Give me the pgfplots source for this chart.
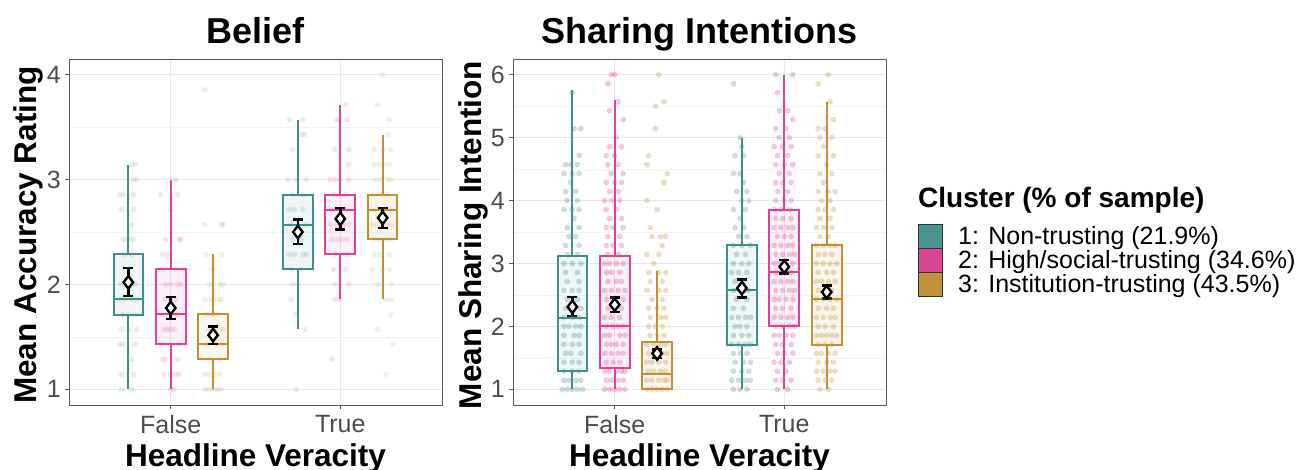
\documentclass[border=0pt]{standalone}
\usepackage{pgfplots}
\pgfplotsset{compat=1.18}
\usepgfplotslibrary{statistics}
\usepackage{fontspec}
\setmainfont{Liberation Sans}
\definecolor{cA}{HTML}{4A9490}
\definecolor{cB}{HTML}{DB4694}
\definecolor{cC}{HTML}{C0923A}
\definecolor{lA}{HTML}{3F8F8C}
\definecolor{lB}{HTML}{E0409A}
\definecolor{lC}{HTML}{C48F30}
\newcommand{\bx}[7]{\addplot[draw=#1, fill=#1, fill opacity=0.08, line width=2pt,
  boxplot/every box/.style={draw=#1, line width=2pt},
  boxplot/every whisker/.style={draw=#1, line width=2pt},
  boxplot/every median/.style={draw=#1, line width=2pt},
  boxplot prepared={draw direction=y, draw position=#2, lower whisker=#3, lower quartile=#4, median=#5,
  upper quartile=#6, upper whisker=#7, box extend=0.175, whisker extend=0}] coordinates {};}
\pgfplotsset{myax/.style={scale only axis, width=373pt, height=346pt,
  xmin=0.4, xmax=2.6, xtick={1,2}, xticklabels={False,True},
  tick pos=left, tick align=outside, major tick length=4pt, minor tick length=0pt,
  axis line style={color=black!65, line width=0.7pt},
  major tick style={color=black!65, line width=0.7pt},
  xmajorgrids, ymajorgrids, yminorgrids,
  major grid style={color=black!9, line width=0.8pt},
  minor grid style={color=black!5, line width=0.5pt},
  /pgf/number format/assume math mode=true,
  ticklabel style={font=\fontsize{25}{30}\selectfont, text=black!70},
  yticklabel style={anchor=east, inner sep=0pt, xshift=-4pt},
  xticklabel style={anchor=north, inner sep=0pt, yshift=-6pt}},
  pts/.style={only marks, mark=*, mark size=2.9pt, mark options={draw=#1, fill=#1, fill opacity=0.15, draw opacity=0}},
  ptsr/.style={only marks, mark=*, mark size=2.9pt, mark options={draw=#1, fill=#1, fill opacity=0.3, draw opacity=0}},
  mn/.style={only marks, mark=diamond*, mark size=6.3pt, mark options={fill=white, draw=black, line width=2.4pt},
    every error bar/.append style={line width=2.6pt, black},
    error bars/.cd, y dir=both, y explicit, error bar style={line width=2.6pt, black},
    error mark options={rotate=90, mark size=5pt, line width=2.6pt, black}}}
\begin{document}
\begin{tikzpicture}
\useasboundingbox (0,0) rectangle (1310pt,469pt);
% ---------------- Belief ----------------
\begin{axis}[myax, at={(69pt,64pt)}, anchor=south west, ymin=0.85, ymax=4.15,
  ytick={1,2,3,4}, minor ytick={1.5,2.5,3.5}]
\addplot[pts=cA] coordinates {(0.77,3.143)(0.79,3.143)(0.78,3.0)(0.80,3.0)(0.70,2.857)(0.72,2.857)(0.78,2.857)(0.71,2.714)(0.78,2.714)(0.77,2.571)(0.72,2.429)(0.75,2.429)(0.78,2.429)(0.73,2.286)(0.77,2.286)(0.75,2.143)(0.71,2.0)(0.75,2.0)(0.79,2.0)(0.70,1.857)(0.73,1.857)(0.77,1.857)(0.80,1.857)(0.72,1.714)(0.75,1.714)(0.79,1.714)(0.71,1.571)(0.75,1.571)(0.80,1.571)(0.70,1.429)(0.72,1.429)(0.79,1.429)(0.77,1.286)(0.71,1.143)(0.78,1.143)(0.71,1.0)(0.77,1.0)};
\addplot[pts=cB] coordinates {(1.03,3.0)(0.94,2.857)(1.04,2.857)(1.0,2.714)(0.97,2.429)(1.05,2.429)(1.06,2.429)(0.95,2.286)(0.98,2.286)(0.96,2.143)(1.03,2.143)(0.97,2.0)(1.0,2.0)(1.04,2.0)(1.06,2.0)(0.96,1.857)(1.0,1.857)(1.03,1.857)(0.95,1.714)(1.04,1.714)(0.96,1.571)(0.98,1.571)(1.0,1.571)(1.02,1.571)(0.95,1.429)(1.05,1.429)(0.95,1.286)(0.97,1.286)(1.04,1.286)(0.96,1.143)(1.0,1.143)(1.03,1.143)(1.05,1.143)(1.0,1.0)(1.02,1.0)};
\addplot[pts=cC] coordinates {(1.20,3.857)(1.20,2.571)(1.30,2.571)(1.31,2.571)(1.21,2.286)(1.30,2.286)(1.25,2.143)(1.23,2.0)(1.29,2.0)(1.31,2.0)(1.20,1.857)(1.23,1.857)(1.25,1.857)(1.28,1.857)(1.30,1.857)(1.21,1.714)(1.25,1.714)(1.28,1.714)(1.22,1.571)(1.25,1.571)(1.29,1.571)(1.31,1.571)(1.21,1.429)(1.27,1.429)(1.30,1.429)(1.23,1.286)(1.29,1.286)(1.20,1.143)(1.23,1.143)(1.26,1.143)(1.29,1.143)(1.20,1.0)(1.22,1.0)(1.24,1.0)(1.26,1.0)(1.28,1.0)(1.30,1.0)};
\addplot[pts=cA] coordinates {(1.70,3.571)(1.78,3.571)(1.77,3.429)(1.79,3.429)(1.72,3.286)(1.69,3.0)(1.74,3.0)(1.80,3.0)(1.72,2.857)(1.78,2.857)(1.70,2.714)(1.73,2.714)(1.78,2.714)(1.71,2.571)(1.75,2.571)(1.80,2.571)(1.72,2.429)(1.77,2.429)(1.70,2.286)(1.73,2.286)(1.78,2.286)(1.80,2.286)(1.71,2.143)(1.77,2.143)(1.72,2.0)(1.75,2.0)(1.71,1.857)(1.74,1.714)(1.79,1.571)(1.74,1.0)};
\addplot[pts=cB] coordinates {(2.03,3.714)(1.98,3.571)(2.04,3.571)(1.97,3.286)(2.05,3.286)(2.05,3.143)(1.94,3.0)(1.97,3.0)(2.0,3.0)(2.05,3.0)(1.96,2.857)(1.99,2.857)(2.03,2.857)(1.95,2.714)(2.03,2.714)(1.94,2.571)(1.98,2.571)(2.02,2.571)(2.05,2.571)(1.95,2.429)(1.98,2.429)(2.01,2.429)(2.04,2.429)(1.97,2.286)(2.03,2.286)(2.05,2.286)(1.96,2.143)(2.03,2.143)(1.97,2.0)(2.05,2.0)(1.97,1.857)(2.0,1.857)(1.95,1.286)};
\addplot[pts=cC] coordinates {(2.25,4.0)(2.22,3.714)(2.29,3.571)(2.28,3.429)(2.20,3.286)(2.25,3.286)(2.30,3.286)(2.20,3.143)(2.23,3.143)(2.26,3.143)(2.29,3.143)(2.21,3.0)(2.24,3.0)(2.28,3.0)(2.30,3.0)(2.20,2.857)(2.23,2.857)(2.25,2.857)(2.28,2.857)(2.21,2.714)(2.26,2.714)(2.30,2.714)(2.19,2.571)(2.22,2.571)(2.25,2.571)(2.28,2.571)(2.30,2.571)(2.20,2.429)(2.23,2.429)(2.27,2.429)(2.30,2.429)(2.20,2.286)(2.23,2.286)(2.29,2.286)(2.19,2.143)(2.25,2.143)(2.29,2.143)(2.22,2.0)(2.30,2.0)(2.27,1.857)(2.30,1.857)(2.30,1.714)(2.22,1.571)(2.31,1.429)(2.27,1.143)};
\bx{lA}{0.75}{1.0}{1.708}{1.857}{2.286}{3.143}
\bx{lB}{1.00}{1.0}{1.429}{1.714}{2.143}{3.0}
\bx{lC}{1.25}{1.0}{1.286}{1.429}{1.714}{2.286}
\bx{lA}{1.75}{1.571}{2.143}{2.571}{2.857}{3.571}
\bx{lB}{2.00}{1.857}{2.286}{2.714}{2.857}{3.714}
\bx{lC}{2.25}{1.857}{2.429}{2.714}{2.857}{3.429}
\addplot[mn] table[x=x, y=y, y error plus=ep, y error minus=em] {
x y ep em
0.75 2.02 0.135 0.13
1.00 1.775 0.105 0.105
1.25 1.517 0.083 0.087
1.75 2.50 0.12 0.116
2.00 2.625 0.102 0.101
2.25 2.635 0.092 0.095
};
\end{axis}
% ---------------- Sharing ----------------
\begin{axis}[myax, at={(513pt,64pt)}, anchor=south west, ymin=0.75, ymax=6.25,
  ytick={1,2,3,4,5,6}, minor ytick={1.5,2.5,3.5,4.5,5.5}]
\addplot[ptsr=cA] coordinates {(0.69,1.0)(0.72,1.0)(0.75,1.0)(0.78,1.0)(0.81,1.0)(0.70,1.143)(0.73,1.143)(0.77,1.143)(0.80,1.143)(0.70,1.286)(0.75,1.286)(0.79,1.286)(0.70,1.429)(0.75,1.429)(0.79,1.429)(0.71,1.571)(0.74,1.571)(0.80,1.571)(0.70,1.714)(0.75,1.714)(0.79,1.714)(0.70,1.857)(0.76,1.857)(0.79,1.857)(0.70,2.0)(0.73,2.0)(0.77,2.0)(0.80,2.0)(0.70,2.143)(0.75,2.143)(0.79,2.143)(0.71,2.286)(0.75,2.286)(0.80,2.286)(0.72,2.429)(0.78,2.429)(0.70,2.571)(0.75,2.571)(0.79,2.571)(0.72,2.714)(0.79,2.714)(0.71,2.857)(0.78,2.857)(0.70,3.0)(0.75,3.0)(0.80,3.0)(0.72,3.143)(0.78,3.143)(0.71,3.286)(0.79,3.286)(0.73,3.429)(0.77,3.429)(0.72,3.571)(0.79,3.571)(0.76,3.714)(0.70,3.857)(0.75,3.857)(0.79,3.857)(0.72,4.0)(0.78,4.0)(0.71,4.143)(0.77,4.143)(0.74,4.286)(0.70,4.429)(0.75,4.429)(0.79,4.429)(0.71,4.571)(0.74,4.571)(0.78,4.571)(0.79,4.714)(0.76,5.143)(0.80,5.143)(0.75,5.714)};
\addplot[ptsr=cB] coordinates {(0.94,1.0)(0.97,1.0)(1.00,1.0)(1.03,1.0)(1.06,1.0)(0.95,1.143)(0.98,1.143)(1.02,1.143)(1.05,1.143)(0.94,1.286)(0.97,1.286)(1.01,1.286)(1.04,1.286)(1.06,1.286)(0.95,1.429)(0.99,1.429)(1.03,1.429)(0.94,1.571)(0.98,1.571)(1.02,1.571)(1.05,1.571)(0.95,1.714)(0.98,1.714)(1.01,1.714)(1.05,1.714)(0.94,1.857)(0.97,1.857)(1.03,1.857)(1.06,1.857)(0.95,2.0)(0.99,2.0)(1.02,2.0)(1.05,2.0)(0.94,2.143)(0.98,2.143)(1.03,2.143)(0.96,2.286)(1.00,2.286)(1.04,2.286)(0.95,2.429)(0.99,2.429)(1.05,2.429)(0.94,2.571)(0.98,2.571)(1.02,2.571)(1.06,2.571)(0.96,2.714)(1.01,2.714)(1.04,2.714)(0.95,2.857)(0.98,2.857)(1.03,2.857)(0.94,3.0)(0.97,3.0)(1.01,3.0)(1.05,3.0)(0.96,3.143)(1.02,3.143)(0.95,3.286)(0.99,3.286)(1.04,3.286)(0.96,3.429)(1.03,3.429)(0.95,3.571)(0.99,3.571)(1.05,3.571)(0.97,3.714)(1.04,3.714)(0.95,3.857)(1.01,3.857)(0.94,4.0)(0.98,4.0)(1.03,4.0)(0.97,4.143)(1.02,4.143)(0.95,4.286)(1.00,4.286)(1.04,4.286)(0.98,4.429)(1.05,4.429)(0.96,4.571)(1.02,4.571)(0.95,4.714)(1.00,4.714)(0.97,4.857)(1.04,4.857)(1.01,5.0)(1.05,5.286)(0.97,5.429)(1.02,5.571)(0.96,5.857)(0.98,6.0)(1.00,6.0)};
\addplot[ptsr=cC] coordinates {(1.19,1.0)(1.22,1.0)(1.25,1.0)(1.28,1.0)(1.31,1.0)(1.19,1.143)(1.22,1.143)(1.26,1.143)(1.29,1.143)(1.31,1.143)(1.20,1.286)(1.23,1.286)(1.27,1.286)(1.30,1.286)(1.19,1.429)(1.22,1.429)(1.26,1.429)(1.30,1.429)(1.20,1.571)(1.24,1.571)(1.28,1.571)(1.31,1.571)(1.19,1.714)(1.23,1.714)(1.27,1.714)(1.30,1.714)(1.21,1.857)(1.25,1.857)(1.29,1.857)(1.20,2.0)(1.24,2.0)(1.28,2.0)(1.21,2.143)(1.27,2.143)(1.30,2.143)(1.20,2.286)(1.25,2.286)(1.29,2.286)(1.22,2.429)(1.28,2.429)(1.19,2.571)(1.26,2.571)(1.30,2.571)(1.21,2.714)(1.28,2.714)(1.20,2.857)(1.26,2.857)(1.30,2.857)(1.23,3.0)(1.19,3.143)(1.26,3.143)(1.28,3.286)(1.22,3.429)(1.27,3.429)(1.30,3.429)(1.21,3.571)(1.25,3.857)(1.19,4.0)(1.29,4.286)(1.31,4.429)(1.19,4.571)(1.20,4.714)(1.24,5.143)(1.24,5.5)(1.29,5.571)(1.26,6.0)};
\addplot[ptsr=cA] coordinates {(1.70,1.0)(1.74,1.0)(1.78,1.0)(1.69,1.143)(1.73,1.143)(1.77,1.143)(1.80,1.143)(1.70,1.286)(1.75,1.286)(1.79,1.286)(1.71,1.429)(1.76,1.429)(1.80,1.429)(1.70,1.571)(1.74,1.571)(1.78,1.571)(1.69,1.714)(1.73,1.714)(1.77,1.714)(1.80,1.714)(1.70,1.857)(1.75,1.857)(1.79,1.857)(1.71,2.0)(1.74,2.0)(1.78,2.0)(1.69,2.143)(1.73,2.143)(1.77,2.143)(1.80,2.143)(1.70,2.286)(1.76,2.286)(1.72,2.429)(1.78,2.429)(1.70,2.571)(1.74,2.571)(1.79,2.571)(1.71,2.714)(1.76,2.714)(1.69,2.857)(1.73,2.857)(1.78,2.857)(1.70,3.0)(1.75,3.0)(1.79,3.0)(1.72,3.143)(1.77,3.143)(1.70,3.286)(1.75,3.286)(1.80,3.286)(1.73,3.429)(1.78,3.429)(1.71,3.571)(1.76,3.571)(1.74,3.714)(1.70,3.857)(1.77,3.857)(1.75,4.0)(1.79,4.0)(1.72,4.143)(1.78,4.143)(1.76,4.286)(1.70,4.429)(1.74,4.429)(1.71,4.714)(1.76,4.714)(1.75,4.857)(1.74,5.0)(1.70,5.857)};
\addplot[ptsr=cB] coordinates {(1.96,1.0)(2.02,1.0)(1.95,1.143)(1.99,1.143)(2.04,1.143)(1.96,1.286)(2.01,1.286)(1.94,1.429)(1.98,1.429)(2.03,1.429)(1.96,1.571)(2.00,1.571)(2.05,1.571)(1.95,1.714)(1.99,1.714)(2.04,1.714)(1.94,1.857)(1.97,1.857)(2.01,1.857)(2.05,1.857)(1.95,2.0)(1.99,2.0)(2.03,2.0)(2.06,2.0)(1.94,2.143)(1.98,2.143)(2.02,2.143)(2.05,2.143)(1.95,2.286)(1.99,2.286)(2.04,2.286)(1.94,2.429)(1.97,2.429)(2.01,2.429)(2.05,2.429)(1.95,2.571)(1.99,2.571)(2.03,2.571)(2.06,2.571)(1.94,2.714)(1.98,2.714)(2.02,2.714)(2.05,2.714)(1.95,2.857)(2.00,2.857)(2.04,2.857)(1.94,3.0)(1.97,3.0)(2.01,3.0)(2.05,3.0)(1.95,3.143)(1.99,3.143)(2.03,3.143)(2.06,3.143)(1.94,3.286)(1.98,3.286)(2.02,3.286)(2.05,3.286)(1.96,3.429)(2.00,3.429)(2.04,3.429)(1.94,3.571)(1.98,3.571)(2.02,3.571)(2.05,3.571)(1.95,3.714)(1.99,3.714)(2.04,3.714)(1.94,3.857)(1.98,3.857)(2.03,3.857)(1.95,4.0)(2.00,4.0)(2.04,4.0)(1.96,4.143)(2.02,4.143)(1.95,4.286)(1.99,4.286)(2.04,4.286)(1.97,4.429)(2.03,4.429)(1.95,4.571)(2.00,4.571)(2.05,4.571)(1.96,4.714)(2.02,4.714)(1.94,4.857)(1.99,4.857)(2.04,4.857)(1.97,5.0)(2.03,5.0)(1.95,5.143)(2.01,5.143)(2.05,5.286)(1.97,5.429)(2.02,5.429)(1.96,5.714)(1.95,6.0)(2.05,6.0)};
\addplot[ptsr=cC] coordinates {(2.21,1.0)(2.26,1.0)(2.20,1.143)(2.24,1.143)(2.28,1.143)(2.19,1.286)(2.23,1.286)(2.27,1.286)(2.30,1.286)(2.20,1.429)(2.25,1.429)(2.29,1.429)(2.19,1.571)(2.22,1.571)(2.26,1.571)(2.30,1.571)(2.20,1.714)(2.24,1.714)(2.28,1.714)(2.19,1.857)(2.22,1.857)(2.25,1.857)(2.28,1.857)(2.31,1.857)(2.20,2.0)(2.24,2.0)(2.29,2.0)(2.19,2.143)(2.23,2.143)(2.27,2.143)(2.30,2.143)(2.20,2.286)(2.25,2.286)(2.29,2.286)(2.19,2.429)(2.23,2.429)(2.27,2.429)(2.31,2.429)(2.20,2.571)(2.24,2.571)(2.28,2.571)(2.19,2.714)(2.22,2.714)(2.26,2.714)(2.30,2.714)(2.20,2.857)(2.25,2.857)(2.29,2.857)(2.19,3.0)(2.23,3.0)(2.27,3.0)(2.31,3.0)(2.20,3.143)(2.24,3.143)(2.28,3.143)(2.19,3.286)(2.23,3.286)(2.27,3.286)(2.30,3.286)(2.21,3.429)(2.26,3.429)(2.19,3.571)(2.23,3.571)(2.28,3.571)(2.21,3.714)(2.27,3.714)(2.20,3.857)(2.24,3.857)(2.29,3.857)(2.22,4.0)(2.27,4.0)(2.20,4.143)(2.26,4.143)(2.30,4.143)(2.23,4.286)(2.21,4.429)(2.28,4.429)(2.25,4.571)(2.20,4.714)(2.29,4.714)(2.23,4.857)(2.21,5.0)(2.28,5.0)(2.20,5.143)(2.24,5.143)(2.29,5.286)(2.27,5.571)(2.20,5.857)(2.26,6.0)};
\bx{lA}{0.75}{1.0}{1.286}{2.125}{3.125}{5.75}
\bx{lB}{1.00}{1.0}{1.339}{2.0}{3.125}{5.6}
\bx{lC}{1.25}{1.0}{1.0}{1.25}{1.75}{2.875}
\bx{lA}{1.75}{1.0}{1.70}{2.571}{3.286}{5.0}
\bx{lB}{2.00}{1.0}{2.0}{2.857}{3.857}{6.0}
\bx{lC}{2.25}{1.0}{1.70}{2.43}{3.286}{5.571}
\addplot[mn] table[x=x, y=y, y error plus=ep, y error minus=em] {
x y ep em
0.75 2.31 0.156 0.146
1.00 2.344 0.111 0.114
1.25 1.57 0.065 0.07
1.75 2.608 0.138 0.153
2.00 2.947 0.106 0.107
2.25 2.545 0.105 0.105
};
\end{axis}
% ---------------- titles and labels ----------------
\node[anchor=base, font=\fontsize{36}{40}\selectfont\bfseries] at (255.5pt,425pt) {Belief};
\node[anchor=base, font=\fontsize{36}{40}\selectfont\bfseries] at (699.5pt,425pt) {Sharing Intentions};
\node[anchor=base, rotate=90, font=\fontsize{31.5}{36}\selectfont\bfseries] at (36pt,234pt) {Mean Accuracy Rating};
\node[anchor=base, rotate=90, font=\fontsize{31.5}{36}\selectfont\bfseries] at (481pt,234pt) {Mean Sharing Intention};
\node[anchor=base, font=\fontsize{31.5}{36}\selectfont\bfseries] at (255.5pt,3pt) {Headline Veracity};
\node[anchor=base, font=\fontsize{31.5}{36}\selectfont\bfseries] at (699.5pt,3pt) {Headline Veracity};
% ---------------- legend ----------------
\node[anchor=base west, inner sep=0pt, font=\fontsize{28}{32}\selectfont\bfseries] at (918pt,261pt) {Cluster (\% of sample)};
\filldraw[fill=cA, draw=black!80, line width=0.8pt] (918pt,221pt) rectangle (942pt,245pt);
\filldraw[fill=cB, draw=black!80, line width=0.8pt] (918pt,197pt) rectangle (942pt,221pt);
\filldraw[fill=cC, draw=black!80, line width=0.8pt] (918pt,173pt) rectangle (942pt,197pt);
\node[anchor=base west, inner sep=0pt, font=\fontsize{25}{30}\selectfont] at (958pt,224pt) {1: Non-trusting (21.9\%)};
\node[anchor=base west, inner sep=0pt, font=\fontsize{25}{30}\selectfont] at (958pt,200pt) {2: High/social-trusting (34.6\%)};
\node[anchor=base west, inner sep=0pt, font=\fontsize{25}{30}\selectfont] at (958pt,176pt) {3: Institution-trusting (43.5\%)};
\end{tikzpicture}
\end{document}
